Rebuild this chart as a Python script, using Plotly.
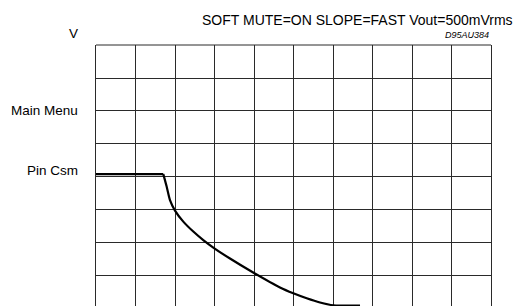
import plotly.graph_objects as go

# curve data (grid units: x 0..10 columns, y 0..8 rows)
flat_x = [0, 1.704]
flat_y = [4.086, 4.086]
curve_x = [1.704, 1.790, 1.873, 2.0, 2.210, 2.463, 2.716, 2.987, 3.392, 4.0, 4.658,
           4.995, 5.334, 5.671, 6.008, 6.684]
curve_y = [4.086, 3.702, 3.299, 2.981, 2.648, 2.346, 2.088, 1.846, 1.528, 1.090, 0.651,
           0.475, 0.324, 0.197, 0.112, 0.100]

label_names = ["Main Menu", "Pin Csm"]
label_levels = [6.0, 4.2]
axis_unit = "V"

title_text = "SOFT MUTE=ON SLOPE=FAST Vout=500mVrms"
code_text = "D95AU384"

FONT = "Liberation Sans, Arial, sans-serif"

fig = go.Figure()
fig.add_trace(go.Scatter(x=flat_x, y=flat_y, mode="lines",
                         line=dict(color="black", width=2.2), hoverinfo="skip"))
fig.add_trace(go.Scatter(x=curve_x, y=curve_y, mode="lines",
                         line=dict(color="black", width=2.2, shape="spline", smoothing=0.6),
                         hoverinfo="skip"))

grid_col = "#2a2a2a"
fig.update_xaxes(range=[0, 10], dtick=1, tick0=0, showgrid=True, gridcolor=grid_col,
                 gridwidth=1, showticklabels=False, zeroline=False, ticks="",
                 showline=False)
fig.update_yaxes(range=[0.09, 8.0], dtick=1, tick0=0, showgrid=True, gridcolor=grid_col,
                 gridwidth=1, showticklabels=False, zeroline=False, ticks="",
                 showline=True, mirror=True, linecolor=grid_col, linewidth=1)

# top frame edge
fig.add_shape(type="line", xref="paper", yref="paper", x0=0, x1=1, y0=1, y1=1,
              line=dict(color=grid_col, width=1), layer="below")

for name, lvl in zip(label_names, label_levels):
    fig.add_annotation(text=name, xref="paper", yref="y", x=-0.04, y=lvl,
                       xanchor="right", yanchor="middle", showarrow=False,
                       font=dict(family=FONT, size=13.5, color="black"))

fig.add_annotation(text=axis_unit, xref="paper", yref="paper", x=-0.04, y=1.0,
                   xanchor="right", yanchor="middle", yshift=12, showarrow=False,
                   font=dict(family=FONT, size=13.5, color="black"))

fig.add_annotation(text=title_text, xref="paper", yref="paper", x=1.06, y=1.0,
                   yanchor="middle", xanchor="right", yshift=25.5, showarrow=False,
                   font=dict(family=FONT, size=14, color="black"))
fig.add_annotation(text="<i>" + code_text + "</i>", xref="paper", yref="paper", x=1.0, y=1.0,
                   yanchor="middle", xanchor="right", yshift=10.5, showarrow=False,
                   font=dict(family=FONT, size=9, color="black"))

fig.update_layout(width=513, height=298, margin=dict(l=88, r=30, t=37, b=0),
                  plot_bgcolor="white", paper_bgcolor="white", showlegend=False)

fig.write_html("out.html")
